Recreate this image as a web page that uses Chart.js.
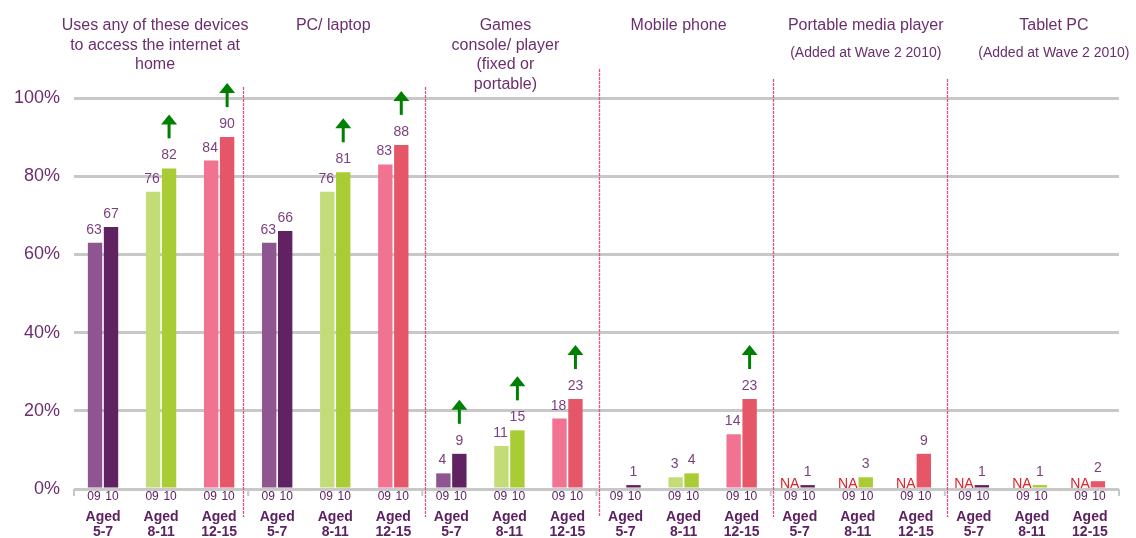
<!DOCTYPE html>
<html>
<head>
<meta charset="utf-8">
<script src="https://cdn.jsdelivr.net/npm/chart.js@4/dist/chart.umd.min.js"></script>
<style>
  html, body { margin: 0; padding: 0; background: #fff; }
  #wrap { width: 1136px; height: 538px; position: relative; }
</style>
</head>
<body>
<div id="wrap"><canvas id="devChart"></canvas></div>
<script>
// device groups shown across the top, each split by age group
const devices = [
    ["Uses any of these devices", "to access the internet at", "home"],
    ["PC/ laptop"],
    ["Games", "console/ player", "(fixed or", "portable)"],
    ["Mobile phone"],
    ["Portable media player"],
    ["Tablet PC"]
];
const deviceNotes = ["", "", "", "", "(Added at Wave 2 2010)", "(Added at Wave 2 2010)"];
const ageGroups = ["5-7", "8-11", "12-15"];
const waves = ["09", "10"];
const yTicks = ["0%", "20%", "40%", "60%", "80%", "100%"];

// values per age group, in device order
const wave09 = [63, 76, 84, 63, 76, 83, 4, 11, 18, null, 3, 14, null, null, null, null, null, null];
const wave10 = [67, 82, 90, 66, 81, 88, 9, 15, 23, 1, 4, 23, 1, 3, 9, 1, 1, 2];
const na09 = [false, false, false, false, false, false, false, false, false, false, false, false, true, true, true, true, true, true];
const sigUp = [false, true, true, false, true, true, true, true, true, false, false, true, false, false, false, false, false, false];

const col09 = ["#8e5590", "#c4dc78", "#f27292"];
const col10 = ["#612262", "#a9cc35", "#e55668"];
const labels = [];
devices.forEach(() => ageGroups.forEach(a => labels.push(a)));

const FONT = "'Liberation Sans', Arial, sans-serif";
const PURPLE = "#6b2e6d";

const overlay = {
    id: "overlay",
    afterDatasetsDraw(chart) {
        const ctx = chart.ctx;
        const xs = chart.scales.x;
        const ys = chart.scales.y;
        const base = ys.getPixelForValue(0);
        const half = (xs.getPixelForValue(1) - xs.getPixelForValue(0)) / 2;
        const m09 = chart.getDatasetMeta(0).data;
        const m10 = chart.getDatasetMeta(1).data;
        ctx.save();

        // small ticks on the baseline at group edges
        ctx.strokeStyle = "#c8c8c8";
        ctx.lineWidth = 2;
        for (let g = 0; g <= devices.length; g++) {
            const x = xs.getPixelForValue(g * 3) - half;
            ctx.beginPath(); ctx.moveTo(x, base); ctx.lineTo(x, base + 7); ctx.stroke();
        }
        // pink dashed separators
        const sepTops = [87, 87, 69, 79, 79];
        const sepShift = [-5, 3, 2, 2, 2];
        ctx.strokeStyle = "#e0508a";
        ctx.lineWidth = 1.3;
        ctx.setLineDash([3, 1]);
        for (let g = 1; g < devices.length; g++) {
            const x = Math.round(xs.getPixelForValue(g * 3) - half + sepShift[g - 1]) + 0.5;
            ctx.beginPath(); ctx.moveTo(x, sepTops[g - 1]); ctx.lineTo(x, 517); ctx.stroke();
        }
        ctx.setLineDash([]);

        // titles
        const titleShift = [-6, -2, -4, -5, 8, 22];
        ctx.fillStyle = PURPLE;
        ctx.textAlign = "center";
        ctx.textBaseline = "middle";
        devices.forEach((lines, g) => {
            const cx = xs.getPixelForValue(g * 3 + 1) + titleShift[g];
            ctx.font = "16px " + FONT;
            lines.forEach((t, i) => ctx.fillText(t, cx, 26 + i * 19.5));
            if (deviceNotes[g]) {
                ctx.font = "14px " + FONT;
                ctx.fillText(deviceNotes[g], cx, 53);
            }
        });

        // value labels
        ctx.font = "14px " + FONT;
        ctx.textBaseline = "alphabetic";
        labels.forEach((_, i) => {
            if (wave09[i] !== null) {
                ctx.fillStyle = "#7b3f7d";
                ctx.fillText(String(wave09[i]), m09[i].x - 1, m09[i].y - 9);
            } else if (na09[i]) {
                ctx.fillStyle = "#e0202a";
                ctx.fillText("NA", m09[i].x - 2, base - 1);
            }
            if (wave10[i] !== null) {
                ctx.fillStyle = "#7b3f7d";
                ctx.fillText(String(wave10[i]), m10[i].x, m10[i].y - 9);
            }
            if (sigUp[i]) {
                const x = m10[i].x, top = m10[i].y;
                ctx.strokeStyle = "#008000";
                ctx.fillStyle = "#008000";
                ctx.lineWidth = 3;
                ctx.beginPath(); ctx.moveTo(x, top - 30); ctx.lineTo(x, top - 45); ctx.stroke();
                ctx.beginPath();
                ctx.moveTo(x, top - 54); ctx.lineTo(x - 8, top - 44); ctx.lineTo(x + 8, top - 44);
                ctx.closePath(); ctx.fill();
            }
        });

        // bottom labels: wave under each bar, then age group
        ctx.fillStyle = "#5c2160";
        ctx.textBaseline = "middle";
        labels.forEach((a, i) => {
            ctx.font = "12px " + FONT;
            ctx.fillText(waves[0], m09[i].x - 1, 497);
            ctx.fillText(waves[1], m10[i].x + 1, 497);
            ctx.font = "bold 14px " + FONT;
            ctx.fillText("Aged", xs.getPixelForValue(i), 517);
            ctx.fillText(a, xs.getPixelForValue(i), 532);
        });
        ctx.restore();
    }
};

new Chart(document.getElementById("devChart"), {
    type: "bar",
    data: {
        labels: labels,
        datasets: [
            { label: waves[0], data: wave09, backgroundColor: labels.map((_, i) => col09[i % 3]) },
            { label: waves[1], data: wave10, backgroundColor: labels.map((_, i) => col10[i % 3]) }
        ]
    },
    options: {
        responsive: true,
        maintainAspectRatio: false,
        animation: false,
        layout: { padding: { top: 98, bottom: 49, left: 0, right: 17 } },
        datasets: { bar: { categoryPercentage: 0.55, barPercentage: 0.9 } },
        plugins: { legend: { display: false }, tooltip: { enabled: false } },
        scales: {
            x: { display: false },
            y: {
                min: 0, max: 100,
                afterFit: s => { s.width = 74; },
                border: { display: false },
                grid: { color: "#c8c8c8", lineWidth: 3, drawTicks: false },
                ticks: {
                    stepSize: 20,
                    padding: 14,
                    color: PURPLE,
                    font: { size: 18, family: FONT },
                    callback: (v) => yTicks[v / 20]
                }
            }
        }
    },
    plugins: [overlay]
});
</script>
</body>
</html>
